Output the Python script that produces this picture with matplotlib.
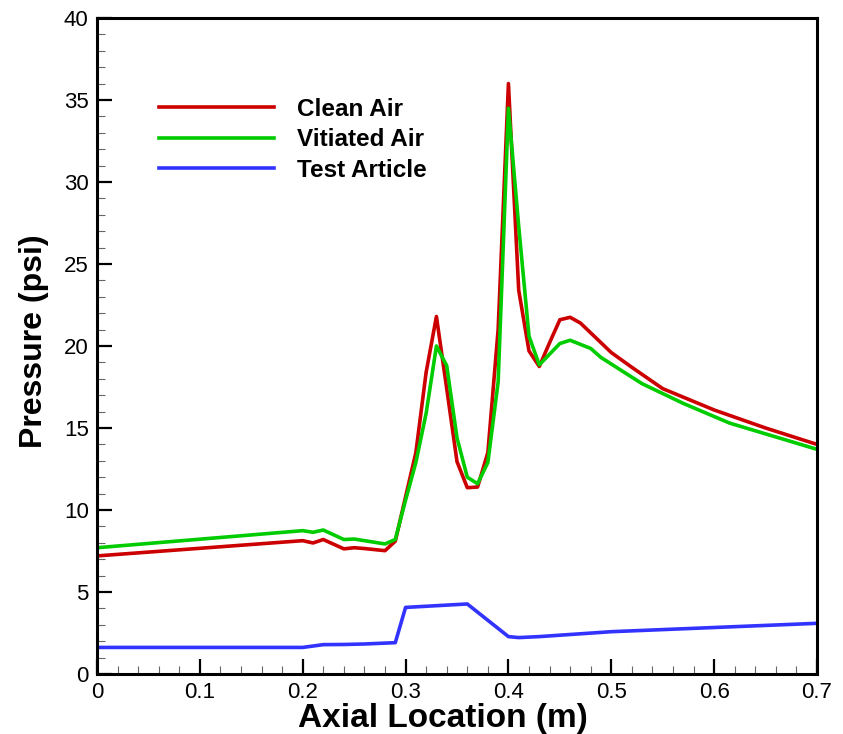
import matplotlib
matplotlib.use("Agg")
import matplotlib.pyplot as plt
from matplotlib.ticker import MultipleLocator

plt.rcParams['font.family'] = ['Liberation Sans', 'DejaVu Sans']

# Clean Air
x_clean = [0.0, 0.20, 0.21, 0.22, 0.24, 0.25, 0.26, 0.28, 0.29, 0.30, 0.31, 0.32, 0.33, 0.34,
           0.35, 0.36, 0.37, 0.38, 0.39, 0.40, 0.41, 0.42, 0.43, 0.44, 0.45, 0.46, 0.47,
           0.48, 0.49, 0.50, 0.52, 0.55, 0.60, 0.65, 0.70]
p_clean = [7.2, 8.13, 7.99, 8.2, 7.63, 7.7, 7.65, 7.52, 8.1, 10.8, 13.5, 18.4, 21.8, 17.4,
           12.95, 11.36, 11.4, 13.5, 21.0, 36.0, 23.4, 19.7, 18.75, 20.2, 21.6, 21.75, 21.4,
           20.8, 20.2, 19.6, 18.7, 17.4, 16.1, 15.0, 14.0]

# Vitiated Air
x_vit = [0.0, 0.20, 0.21, 0.22, 0.24, 0.25, 0.28, 0.29, 0.30, 0.31, 0.32, 0.33, 0.34,
         0.35, 0.36, 0.37, 0.38, 0.39, 0.40, 0.41, 0.42, 0.43, 0.45, 0.46, 0.48, 0.49,
         0.53, 0.57, 0.615, 0.70]
p_vit = [7.7, 8.74, 8.64, 8.78, 8.2, 8.23, 7.93, 8.2, 10.6, 12.9, 15.9, 20.0, 18.8,
         14.4, 12.0, 11.6, 12.9, 17.8, 34.5, 27.3, 20.6, 18.85, 20.15, 20.35, 19.85, 19.3,
         17.7, 16.5, 15.3, 13.7]

# Test Article
x_test = [0.0, 0.20, 0.22, 0.24, 0.26, 0.29, 0.30, 0.36, 0.40, 0.41, 0.43, 0.50, 0.70]
p_test = [1.62, 1.62, 1.79, 1.8, 1.83, 1.91, 4.06, 4.27, 2.28, 2.22, 2.28, 2.58, 3.09]

labels = ['Clean Air', 'Vitiated Air', 'Test Article']
colors = ['#cc0000', '#00cc00', '#3333ff']

fig = plt.figure(figsize=(8.43, 7.34), dpi=100)
ax = fig.add_axes([97/843, 1-674/734, (817-97)/843, (674-18)/734])

ax.plot(x_clean, p_clean, color=colors[0], lw=2.6, label=labels[0])
ax.plot(x_vit, p_vit, color=colors[1], lw=2.6, label=labels[1])
ax.plot(x_test, p_test, color=colors[2], lw=2.6, label=labels[2])

ax.set_xlim(0, 0.7)
ax.set_ylim(0, 40)
ax.xaxis.set_major_locator(MultipleLocator(0.1))
ax.xaxis.set_minor_locator(MultipleLocator(0.02))
ax.yaxis.set_major_locator(MultipleLocator(5))
ax.yaxis.set_minor_locator(MultipleLocator(1))

def fmt(v, pos):
    return f"{v:.1f}".rstrip('0').rstrip('.')
ax.xaxis.set_major_formatter(plt.FuncFormatter(fmt))

ax.tick_params(which='major', direction='in', length=11, width=1.6, labelsize=16, pad=6,
               top=False, right=False)
ax.tick_params(which='minor', direction='in', length=6, width=0.8, color='#666666',
               top=False, right=False)
for s in ax.spines.values():
    s.set_linewidth(2.2)

ax.set_xlabel('Axial Location (m)', fontsize=24, fontweight='bold', labelpad=0)
ax.set_ylabel('Pressure (psi)', fontsize=23, fontweight='bold', labelpad=11)
ax.xaxis.label.set_x(0.481)
ax.yaxis.label.set_y(0.507)

leg = ax.legend(loc='upper left', bbox_to_anchor=(0.073, 0.893), frameon=False,
                prop={'size': 17.5, 'weight': 'bold'}, handlelength=4.7,
                handletextpad=0.95, labelspacing=0.31, borderaxespad=0)

fig.savefig('out.png', dpi=100)
